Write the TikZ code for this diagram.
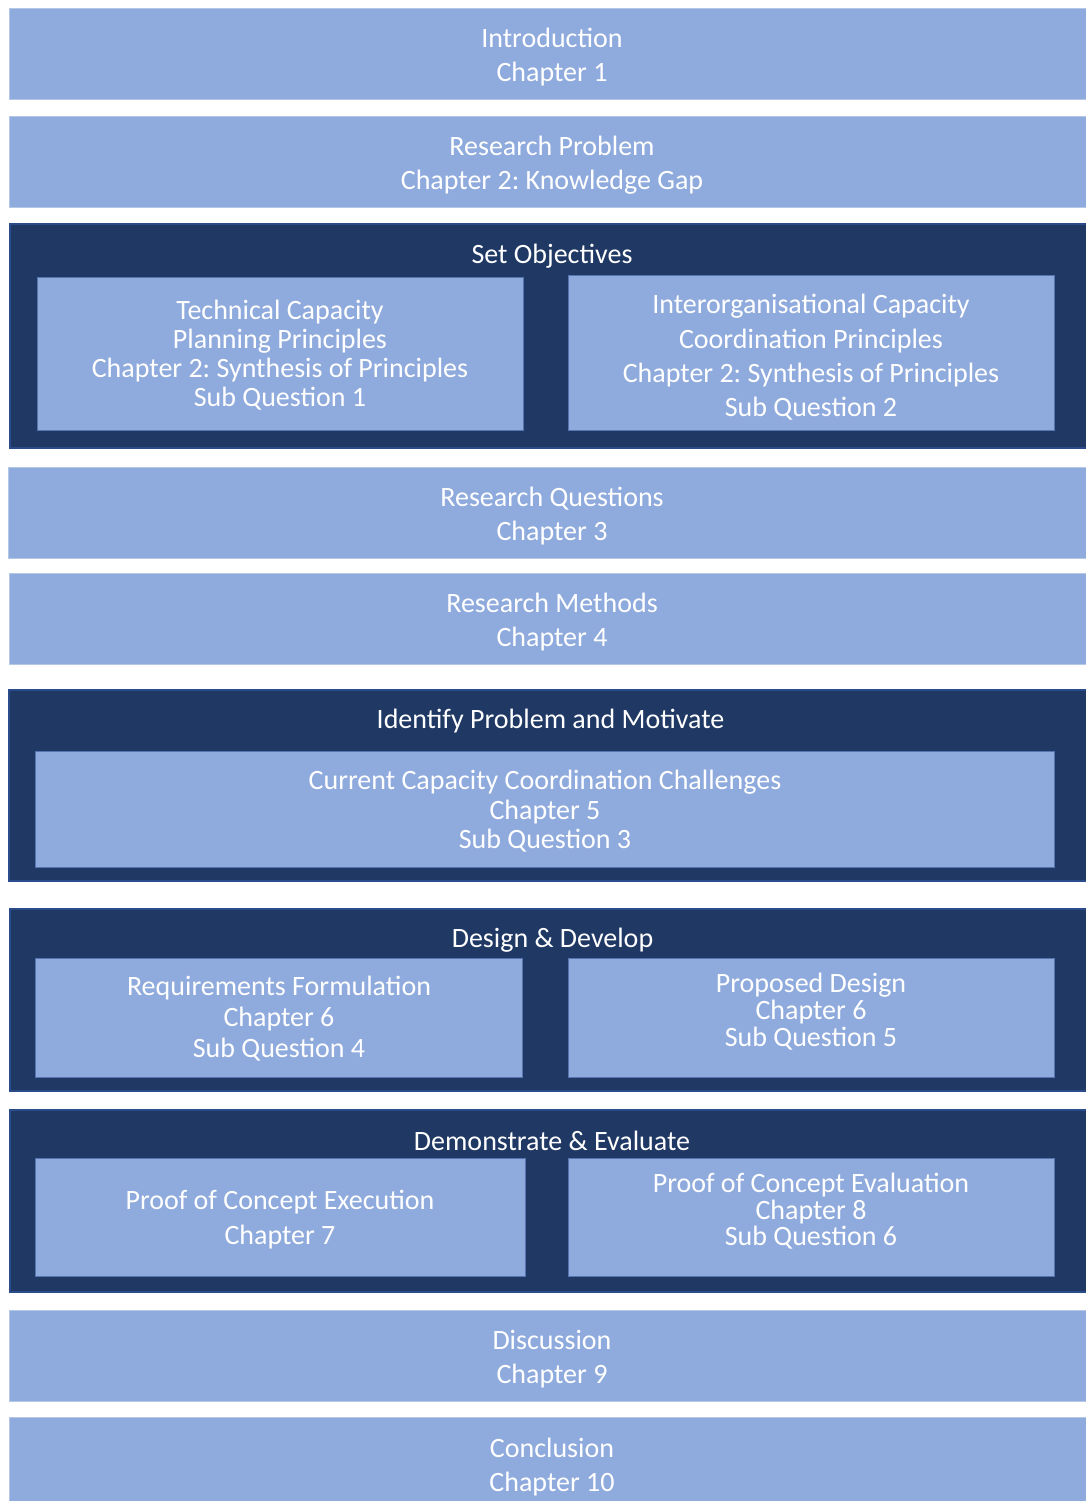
\documentclass[tikz,border=0pt]{standalone}
\usepackage{fontspec}
\setmainfont{Carlito}
\frenchspacing
\definecolor{paleblue}{HTML}{8FAADC}
\definecolor{paleedge}{HTML}{B4C7E7}
\definecolor{navy}{HTML}{203864}
\definecolor{navyedge}{HTML}{2B4C8A}
\definecolor{inneredge}{HTML}{5675B0}
\begin{document}
\begin{tikzpicture}[x=1pt,y=-1pt,
  box/.style={rectangle,inner sep=0pt,outer sep=0pt},
  band/.style={box,fill=paleblue,draw=paleedge,line width=0.8pt},
  frame/.style={box,fill=navy,draw=navyedge,line width=2pt},
  panel/.style={box,fill=paleblue,draw=inneredge,line width=1pt},
  txt/.style={text=white,align=center,inner sep=0pt,yshift=-2pt,font=\fontsize{28}{#1}\selectfont},
  txt/.default=34,
]
\useasboundingbox (0,0) rectangle (1086,1501);

% full-width bands and framed groups
\draw[band]  (9,8)     rectangle (1090,99)   node[box] (intro) {};
\draw[band]  (9,116)   rectangle (1090,207)  node[box] (problem) {};
\draw[frame] (10,224)  rectangle (1090,448)  node[box] (objectives) {};
\draw[panel] (37,277)  rectangle (523,430)   node[box] (technical) {};
\draw[panel] (568,275) rectangle (1054,430)  node[box] (interorg) {};
\draw[band]  (8,467)   rectangle (1090,558)  node[box] (questions) {};
\draw[band]  (9,573)   rectangle (1090,664)  node[box] (methods) {};
\draw[frame] (9,690)   rectangle (1090,881)  node[box] (identify) {};
\draw[panel] (35,751)  rectangle (1054,867)  node[box] (challenges) {};
\draw[frame] (10,909)  rectangle (1090,1091) node[box] (design) {};
\draw[panel] (35,958)  rectangle (522,1077)  node[box] (requirements) {};
\draw[panel] (568,958) rectangle (1054,1077) node[box] (proposed) {};
\draw[frame] (10,1110) rectangle (1090,1292) node[box] (demonstrate) {};
\draw[panel] (35,1158) rectangle (525,1276)  node[box] (execution) {};
\draw[panel] (568,1158) rectangle (1054,1276) node[box] (evaluation) {};
\draw[band]  (9,1310)  rectangle (1090,1401) node[box] (discussion) {};
\draw[band]  (9,1417)  rectangle (1090,1505) node[box] (conclusion) {};

% texts
\node[txt] (t-intro) at (552,55) {Introduction\\Chapter 1};
\node[txt] (t-problem) at (552,163) {Research Problem\\Chapter 2: Knowledge Gap};
\node[txt] (t-objectives) at (552,254) {Set Objectives};
\node[txt=29] (t-technical) at (280,353.5) {Technical Capacity\\Planning Principles\\Chapter 2: Synthesis of Principles\\Sub Question 1};
\node[txt=34.3] (t-interorg) at (811,355.5) {Interorganisational Capacity\\Coordination Principles\\Chapter 2: Synthesis of Principles\\Sub Question 2};
\node[txt] (t-questions) at (552,514) {Research Questions\\Chapter 3};
\node[txt] (t-methods) at (552,620) {Research Methods\\Chapter 4};
\node[txt] (t-identify) at (550.5,719) {Identify Problem and Motivate};
\node[txt=29.5] (t-challenges) at (545,809.5) {Current Capacity Coordination Challenges\\Chapter 5\\Sub Question 3};
\node[txt] (t-design) at (552.5,938) {Design \& Develop};
\node[txt=31] (t-requirements) at (279,1017) {Requirements Formulation\\Chapter 6\\Sub Question 4};
\node[txt=27] (t-proposed) at (811,1010) {Proposed Design\\Chapter 6\\Sub Question 5};
\node[txt] (t-demonstrate) at (552,1139) {Demonstrate \& Evaluate};
\node[txt=35] (t-execution) at (280,1217.5) {Proof of Concept Execution\\Chapter 7};
\node[txt=26.5] (t-evaluation) at (811,1209.5) {Proof of Concept Evaluation\\Chapter 8\\Sub Question 6};
\node[txt] (t-discussion) at (552,1357) {Discussion\\Chapter 9};
\node[txt] (t-conclusion) at (552,1465) {Conclusion\\Chapter 10};
\end{tikzpicture}
\end{document}
